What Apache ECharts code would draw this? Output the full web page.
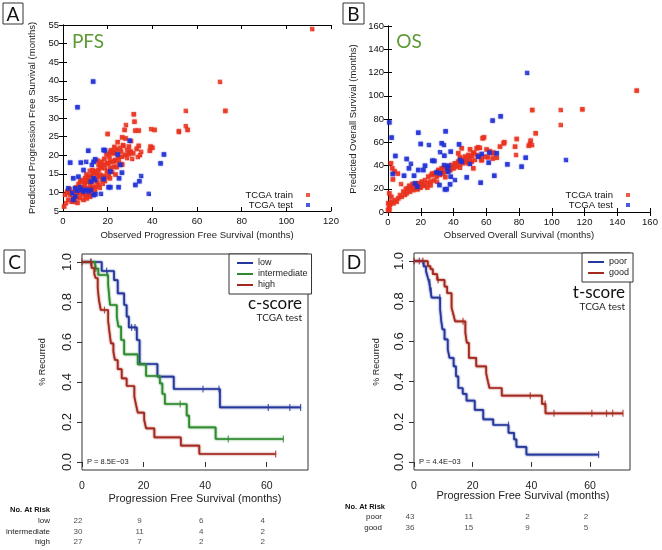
<!DOCTYPE html>
<html><head><meta charset="utf-8">
<script src="https://cdn.jsdelivr.net/npm/echarts@6/dist/echarts.min.js"></script>
<style>html,body{margin:0;padding:0;background:#fff}#c{width:662px;height:550px}</style>
</head><body><div id="c"></div>
<script>
// ---------- Panel A: PFS (observed, predicted) ----------
const pfsTrain = [[111.6,53.9],[70.3,39.7],[72.7,31.9],[55,31.9],[55,27.8],[55.8,26.8],[51.9,26.5],[51.9,26.2],[39.5,27],[41,26.8],[39.2,22.3],[40,22],[38.9,21.2],[33.9,22.5],[31.7,31],[32,29],[28.2,28.1],[27.6,26.8],[32.4,26.6],[33.9,26.6],[20,25.7],[26.9,22.7],
[21.9,21],[22.7,20.7],[21.2,20.7],[28.7,21.4],[30.2,21],[31.4,20.5],[29.4,20.3],[27.9,20.1],[26.4,19.6],[24.9,19.2],[28.7,19.2],[23.4,18.7],[22.7,18.3],[21.2,18.3],[20.4,17.8],[19.7,17.8],[18.2,17.4],[16.7,16.9],[17.4,16.5],[15.9,16],[18.9,16.5],[21.2,16.5],[19.7,15.6],[22.7,16.9],[15.2,15.1],[13.7,15.1],[16.7,14.7],[15.9,14.2],[18.2,14.4],[19.7,14.2],[17.4,13.3],[11.4,14.2],[9.9,13.8],[10.7,12.9],[12.9,12.9],[15.2,12.9],[15.9,12],[12.2,12],[13.7,11.5],[9.9,12],[7.7,12.9],[8.4,10.2],[11.4,9.3],[12.9,9.8],[14.4,10.6],[6.9,9.8],[6.2,8.8],[4.6,8.4],[3.2,9.3],[1.7,9.8],[0.9,9.3],[2.4,8],[3.9,7.5],[5.4,7.5],[9.2,8],[10.7,8.4],[12.2,8.8],[0.5,6.2],[1.4,7.1],
[24,21.5],[25.5,22],[23,20.5],[26,21],[27,22.5],[29.5,22.3],[30,20.8],[33,21.7],[34.5,20],[25,18],[26.5,17.5],[24,16.8],[22,15.5],[20.5,15],[23.5,14.8],[21,13.8],[18.8,13],[17.8,12.3],[16.5,11.2],[14.8,11.5],[13,10.8],[11.8,11.1],[10.3,10.9],[9,11.5],[8,11],[7.2,10.6],[6,10.5],[5,10],[4,9.9],[3,10.8],[2,10.3],[8.8,9.5],[10,9.2],[7.5,8.5],[6.5,7.2],[9.5,12.7],[11,13.3],[12.5,14.5],[14,13.7],[13.2,16],[14.6,15.7],[16,17.4],[17.2,18.2],[18.5,19],[19.5,20.2],[20.8,19.5],[21.5,21.3],[23,22.2],[12,15.8],[10.5,14.8],[8.5,13.3],[7,12.2],[5.8,11.3],[15.5,18.5],[26.5,24.8],[24.5,23.5],[28,24.5],[30.5,23.8],[35,20.9],[33.5,19.5],[31,19]];
const pfsTest = [[6.5,32.9],[13.5,39.8],[29.9,23.9],[11.3,21.2],[18.2,21.4],[18.8,21.3],[24.5,20.2],[45.2,20.2],[3.2,18],[43.7,17.8],[8,18],[10.4,18.2],[13.7,18.2],[14.4,18.9],[12.9,17.4],[25.7,17.4],[9.2,16],[21.2,15.6],[26.4,15.3],[6.9,14.2],[4.6,13.8],[13.7,13.8],[14.4,13.3],[12.5,12.9],[18.2,13.6],[25.1,13.8],[35,14.4],[34.2,13],[32.4,12],[20.4,11.4],[21.2,11.4],[24.9,11.4],[38.4,9.6],[17,9.6],[13.7,9.3],[14.5,9.5],[7.7,11.4],[5.4,11.1],[6.4,10.5],[8.4,10.7],[9.2,10.3],[10.4,10.7],[11.4,10.3],[12.5,10.7],[4.1,9.8],[5.4,8.9],[4.6,8],[2.4,11.1]];

// ---------- Panel B: OS (observed, predicted) ----------
const osTrain = [[151.9,104.4],[105.5,87.7],[118.7,88.3],[88.1,87.7],[105.5,74.8],[90.2,67.7],[86.7,58.5],[87.1,61.3],[78.6,62.8],[77.6,56.2],[78.2,49],[86,57],[88,57.5],[70.7,59.1],[71,60],[68.4,56.2],[58.6,64.2],[57.8,63.4],[55.1,55.6],[64.3,50.5],[66.4,46.7],[61,47],[64,46],[50.1,53.9],[52.5,51],[57.2,44.7],[52.1,37.6],[45,54.8],[42.9,50.5],[44,47],
[54.2,54.8],[56.2,55.2],[60.2,53.8],[62.2,52.4],[64.3,51],[52.1,50.5],[51.1,48.2],[49.1,49],[47,47.6],[54.2,49],[56.2,47.6],[45,44.7],[42.9,43.3],[40.9,41.9],[38.9,40.4],[41.9,39],[44,40.4],[47,43.3],[49.1,41.9],[51.1,43.3],[53.1,44.7],[57.2,44.7],[59.2,47.6],[34.8,39],[32.8,37.6],[30.7,36.1],[36.8,37.6],[35.8,34.7],[37.9,36.1],[39.9,37.6],[33.8,33.3],[31.8,31.8],[28.7,33.3],[26.7,31.8],[24.6,30.4],[29.7,30.4],[22.6,27.5],[20.6,26.1],[18.5,24.7],[16.5,23.2],[19.5,21.8],[17.5,20.4],[15.5,18.9],[14.5,21.8],[21.6,23.2],[23.6,24.7],[25.7,26.1],[13.4,17.5],[12.4,20.4],[11.4,16.1],[10.4,14.6],[9.4,17.5],[8.4,13.2],[7.3,14.6],[6.3,11.8],[5.3,8.9],[4.3,10.3],[3.3,7.5],[2.2,8.9],[1.2,6],[0.2,7.5],[0.6,3.2],[0,1.7],[1.8,41.9],[2.6,37.6],[0.8,16.1],[0.8,7.5],[0.8,1.7],[2,13],
[4,35],[6,33],[3,28],[8,24],[11,20],[13,22.5],[15,24],[18,19.5],[20,21],[22,22.5],[24,21],[26,23],[28,27],[30,26],[27,33],[31,35],[33,36],[36,38],[38,36],[40,38],[42,40],[46,42],[48,45],[50,46],[44,38],[35,30]];
const osTest = [[0.8,77.1],[2.2,64],[85,119.6],[63.9,78.6],[68.8,82.3],[18.5,68.2],[35.2,69.4],[20,58.5],[25,57.6],[32.8,59.1],[34.2,57.6],[43.4,58.2],[4.5,48.2],[11.4,45.6],[14,41.5],[2.9,32.7],[9.8,31.2],[12.8,37.6],[18.5,36.1],[21.6,36.1],[22.6,39.8],[27.1,44.1],[28.3,43.9],[31.8,51.4],[34.4,48.4],[38.3,51.9],[34.2,40.4],[36.2,37.6],[36.8,39.8],[29.7,34.1],[31.8,33.3],[38.3,30.4],[36.8,34.7],[40.9,27.5],[31.4,23.2],[37.9,23.8],[34.8,19.5],[35.8,19.6],[16.5,24.7],[17.9,21.8],[44,44.7],[45,43.3],[50.1,41.3],[55.1,47.6],[57.2,49.9],[61.9,51],[66.4,50.5],[61.5,42.4],[72.9,41],[81.6,39],[84.1,46.7],[108.7,44.7],[64.9,31.2],[56.6,25.2],[48.1,29.8],[15.9,31.2]];

// ---------- Panel C: Kaplan-Meier, c-score (time in months, fraction) ----------
const cLowT  = [0,6.4,10.4,11.6,13.7,14.5,15.2,17.8,18.7,24.5,29.8,44.8,71.0];
const cLowS  = [1,0.955,0.909,0.843,0.785,0.727,0.673,0.61,0.49,0.427,0.365,0.273,0.273];
const cLowCT = [2.9,8.0,16.1,17.2,39.3,44.5,60.5,67.5,71.0];
const cLowCS = [1,0.955,0.673,0.673,0.365,0.365,0.273,0.273,0.273];
const cIntT  = [0,4.3,5.3,8.5,9.1,11.3,11.8,12.7,13.7,18.1,20.8,25.3,26.1,26.9,34.0,34.8,43.4,65.4];
const cIntS  = [1,0.967,0.935,0.885,0.785,0.727,0.677,0.61,0.538,0.488,0.43,0.393,0.34,0.29,0.232,0.173,0.115,0.115];
const cIntCT = [4.5,8.3,31.9,47.5,65.4];
const cIntCS = [0.967,0.935,0.29,0.115,0.115];
const cHighT = [0,3.1,4.0,4.4,5.1,5.5,6.1,8.5,8.9,9.4,10.2,10.7,11.6,12.9,14.5,17.0,17.5,18.1,20.2,20.8,23.5,32.1,38.1,62.9];
const cHighS = [1,0.97,0.94,0.92,0.87,0.81,0.76,0.705,0.652,0.593,0.55,0.51,0.464,0.418,0.38,0.327,0.29,0.247,0.21,0.168,0.123,0.082,0.04,0.04];
const cHighCT = [0,2.9,7.3,62.9];
const cHighCS = [1,1,0.76,0.04];

// ---------- Panel D: Kaplan-Meier, t-score ----------
const dPoorT = [0,3.3,4.1,4.7,5.2,5.6,6.0,8.9,9.3,9.7,10.4,11.5,12.1,13.5,14.3,15.1,16.6,17.9,20.7,23.6,27.0,32.2,34.1,34.9,38.3,62.9];
const dPoorS = [1,0.973,0.95,0.918,0.893,0.851,0.818,0.76,0.70,0.66,0.61,0.56,0.518,0.476,0.426,0.368,0.339,0.305,0.259,0.212,0.184,0.145,0.112,0.075,0.037,0.037];
const dPoorCT = [4.2,5.4,5.9,8.8,32.2,62.9];
const dPoorCS = [0.95,0.893,0.851,0.818,0.184,0.037];
const dGoodT = [0,4.7,5.6,6.4,7.9,10.4,11.3,12.8,13.4,14.0,17.5,18.0,18.7,21.2,24.6,25.2,25.7,29.9,43.6,44.8,71.2];
const dGoodS = [1,0.975,0.96,0.935,0.906,0.873,0.84,0.768,0.735,0.70,0.643,0.593,0.518,0.476,0.44,0.40,0.368,0.33,0.289,0.242,0.242];
const dGoodCT = [0,1.8,3.0,8.2,16.7,39.6,44.7,47.7,60.6,65.6,67.7,71.2];
const dGoodCS = [1,1,1,0.906,0.70,0.33,0.289,0.242,0.242,0.242,0.242,0.242];

// ---------- Numbers at risk ----------
const riskTimes = [0,20,40,60];
const riskLow = [22,9,6,4];
const riskInt = [30,11,4,2];
const riskHigh = [27,7,2,2];
const riskPoor = [43,11,2,2];
const riskGood = [36,15,9,5];

const zip = (t,s) => t.map((v,i)=>[v,s[i]]);
const riskRows = (vals,row) => vals.map((v,i)=>[riskTimes[i],row,v]);

const F = '"Liberation Sans", Arial, sans-serif';
const G = 'Lato, "Open Sans", sans-serif';
const RED = '#e8321e', BLUE = '#1f2fd6';
const cBlue = '#25379b', cGreen = '#2e8a2e', cRed = '#a3291f';

const chart = echarts.init(document.getElementById('c'), null, {renderer:'canvas'});

function scatterAxesX(grid, max, interval){
  return [
    {gridIndex:grid, type:'value', min:0, max:max, interval:interval, position:'bottom',
     axisLine:{lineStyle:{color:'#000',width:1}}, axisTick:{inside:true,length:4,lineStyle:{color:'#000'}},
     axisLabel:{fontFamily:F,fontSize:9.5,color:'#111',margin:5}, splitLine:{show:false}},
    {gridIndex:grid, type:'value', min:0, max:max, interval:interval, position:'top',
     axisLine:{lineStyle:{color:'#000',width:1}}, axisTick:{inside:true,length:4,lineStyle:{color:'#000'}},
     axisLabel:{show:false}, splitLine:{show:false}}
  ];
}
function scatterAxesY(grid, min, max, interval){
  return [
    {gridIndex:grid, type:'value', min:min, max:max, interval:interval, position:'left',
     axisLine:{show:true,lineStyle:{color:'#000',width:1}}, axisTick:{show:true,inside:true,length:4,lineStyle:{color:'#000'}},
     axisLabel:{fontFamily:F,fontSize:9.5,color:'#111',margin:4}, splitLine:{show:false}},
    {gridIndex:grid, type:'value', min:min, max:max, interval:interval, position:'right',
     axisLine:{show:true,lineStyle:{color:'#000',width:1}}, axisTick:{show:true,inside:true,length:4,lineStyle:{color:'#000'}},
     axisLabel:{show:false}, splitLine:{show:false}}
  ];
}
function kmX(grid, max){
  return {gridIndex:grid, type:'value', min:0, max:max, axisLine:{show:false},
    axisTick:{show:true, length:5, customValues:[0,20,40,60], lineStyle:{color:'#333'}},
    axisLabel:{customValues:[0,20,40,60], fontFamily:F, fontSize:10.5, color:'#222', margin:11},
    splitLine:{show:false}};
}
function kmY(grid){
  return {gridIndex:grid, type:'value', min:-0.04, max:1.04, axisLine:{show:false},
    axisTick:{show:true, length:5, customValues:[0,0.2,0.4,0.6,0.8,1.0], lineStyle:{color:'#333'}},
    axisLabel:{customValues:[0,0.2,0.4,0.6,0.8,1.0], formatter:v=>v.toFixed(1), rotate:90,
      fontFamily:F, fontSize:13, color:'#222', margin:8},
    splitLine:{show:false}};
}
function riskX(grid,max){
  return {gridIndex:grid,type:'value',min:0,max:max,show:false};
}
function riskY(grid,cats){
  return {gridIndex:grid,type:'category',data:cats,inverse:true,
    axisLine:{show:false},axisTick:{show:false},
    axisLabel:{fontFamily:F,fontSize:8,color:'#222',margin:32}};
}

const xAxes = [].concat(scatterAxesX(0,120,20), scatterAxesX(1,160,20),
  [kmX(2,73.4), kmX(3,73.6), riskX(4,73.4), riskX(5,73.6)]);
const yAxes = [].concat(scatterAxesY(0,5,55,5), scatterAxesY(1,0,160,20),
  [kmY(2), kmY(3), riskY(4,['low','intermediate','high']), riskY(5,['poor','good'])]);

function sc(name, data, xi, yi, color){
  return {type:'scatter', name:name, data:data, xAxisIndex:xi, yAxisIndex:yi,
    symbol:'rect', symbolSize:4.5, itemStyle:{color:color, shadowColor:color, shadowBlur:1.5}, silent:true};
}
function km(name, t, s, xi, yi, color){
  return {type:'line', name:name, data:zip(t,s), xAxisIndex:xi, yAxisIndex:yi, step:'end',
    showSymbol:false, symbol:'none', lineStyle:{color:color, width:1.7, shadowColor:color, shadowBlur:2},
    itemStyle:{color:color}, silent:true};
}
function cens(t, s, xi, yi, color){
  return {type:'scatter', name:'_c', data:zip(t,s), xAxisIndex:xi, yAxisIndex:yi,
    symbol:'rect', symbolSize:[1.2,7], itemStyle:{color:color}, silent:true};
}
function risk(vals,row,xi,yi){
  return {type:'scatter', name:'_r', data:riskRows(vals,row), xAxisIndex:xi, yAxisIndex:yi,
    symbolSize:0, silent:true,
    label:{show:true, position:'inside', offset:[-4,0], formatter:p=>String(p.value[2]),
      fontFamily:F, fontSize:8, color:'#222'}};
}

function box(x,y,w,h,letter){
  return [{type:'rect', shape:{x:x,y:y,width:w,height:h}, style:{fill:'#fff',stroke:'#333',lineWidth:1}},
    {type:'text', x:x+w/2, y:y+h/2+1, style:{text:letter, fill:'#111', font:'19px '+G, align:'center', verticalAlign:'middle'}}];
}
function txt(text,x,y,font,align,color,rot){
  return {type:'text', x:x, y:y, rotation:rot||0, style:{text:text, fill:color||'#222', font:font, align:align||'center', verticalAlign:'middle'}};
}

const option = {
  animation:false,
  backgroundColor:'#fff',
  grid:[
    {left:63, top:25, width:268, height:186},
    {left:388, top:26, width:262, height:186},
    {left:82, top:254, width:226, height:216, show:true, borderColor:'#333', borderWidth:1, backgroundColor:'transparent'},
    {left:414, top:253, width:216, height:217, show:true, borderColor:'#333', borderWidth:1, backgroundColor:'transparent'},
    {left:82, top:516, width:226, height:31.5},
    {left:414, top:511.5, width:216, height:22}
  ],
  xAxis:xAxes,
  yAxis:yAxes,
  legend:[
    {data:['low','intermediate','high'], left:229, top:254, orient:'vertical', itemWidth:16, itemHeight:2, itemGap:1,
     padding:[4,4,4,8], borderColor:'#333', borderWidth:1, backgroundColor:'#fff', icon:'rect',
     textStyle:{fontFamily:F,fontSize:9,color:'#222',lineHeight:10}, selectedMode:false},
    {data:['poor','good'], left:582, top:253, orient:'vertical', itemWidth:16, itemHeight:2, itemGap:1,
     padding:[4,4,4,6], borderColor:'#333', borderWidth:1, backgroundColor:'#fff', icon:'rect',
     textStyle:{fontFamily:F,fontSize:9,color:'#222',lineHeight:10}, selectedMode:false},
    {data:['TCGA train','TCGA test'], right:352, top:190, padding:0, orient:'vertical', align:'right', icon:'rect',
     itemWidth:4, itemHeight:4, itemGap:0, textStyle:{fontFamily:F,fontSize:9.5,color:'#111',lineHeight:9.5,padding:[0,8,0,0]}, selectedMode:false},
    {data:['TCGA train','TCGA test'], right:32, top:190, padding:0, orient:'vertical', align:'right', icon:'rect',
     itemWidth:4, itemHeight:4, itemGap:0, textStyle:{fontFamily:F,fontSize:9.5,color:'#111',lineHeight:9.5,padding:[0,8,0,0]}, selectedMode:false}
  ],
  series:[
    sc('TCGA train', pfsTrain, 0, 0, RED),
    sc('TCGA test', pfsTest, 0, 0, BLUE),
    sc('TCGA train', osTrain, 2, 2, RED),
    sc('TCGA test', osTest, 2, 2, BLUE),
    km('low', cLowT, cLowS, 4, 4, cBlue),
    km('intermediate', cIntT, cIntS, 4, 4, cGreen),
    km('high', cHighT, cHighS, 4, 4, cRed),
    cens(cLowCT, cLowCS, 4, 4, cBlue),
    cens(cIntCT, cIntCS, 4, 4, cGreen),
    cens(cHighCT, cHighCS, 4, 4, cRed),
    km('poor', dPoorT, dPoorS, 5, 5, cBlue),
    km('good', dGoodT, dGoodS, 5, 5, cRed),
    cens(dPoorCT, dPoorCS, 5, 5, cBlue),
    cens(dGoodCT, dGoodCS, 5, 5, cRed),
    risk(riskLow,'low',6,6), risk(riskInt,'intermediate',6,6), risk(riskHigh,'high',6,6),
    risk(riskPoor,'poor',7,7), risk(riskGood,'good',7,7)
  ],
  graphic:[].concat(
    box(3,3,20,21,'A'), box(343,3,21,21,'B'), box(4,250,21,23,'C'), box(343,250,22,23,'D'),
    [
      txt('PFS',88,42,'19px '+G,'center','#5d9a36'),
      txt('OS',409,42,'19px '+G,'center','#5d9a36'),
      txt('Predicted Progression Free Survival (months)',32,118,'9.5px '+F,'center','#222',Math.PI/2),
      txt('Observed Progression Free Survival (months)',197,235,'9.5px '+F,'center','#222'),
      txt('Predicted Overall Survival (months)',353,119,'9.5px '+F,'center','#222',Math.PI/2),
      txt('Observed Overall Survival (months)',519,235,'9.5px '+F,'center','#222'),
      txt('% Recurred',43,362,'9px '+F,'center','#222',Math.PI/2),
      txt('% Recurred',377,362,'9px '+F,'center','#222',Math.PI/2),
      txt('Progression Free Survival (months)',195,499,'11px '+F,'center','#222'),
      txt('Progression Free Survival (months)',523,496,'11px '+F,'center','#222'),
      txt('c-score',302,304,'17px '+G,'right','#111'),
      txt('TCGA test',302,318,'10px '+G,'right','#222'),
      txt('t-score',625,293,'17px '+G,'right','#111'),
      txt('TCGA test',625,307,'10px '+G,'right','#222'),
      txt('P = 8.5E\u221203',87,462,'7.5px '+F,'left','#222'),
      txt('P = 4.4E\u221203',419,462,'7.5px '+F,'left','#222'),
      txt('No. At Risk',50,510,'bold 7.5px '+F,'right','#111'),
      txt('No. At Risk',385,507,'bold 7.5px '+F,'right','#111')
    ])
};
chart.setOption(option);
</script></body></html>
